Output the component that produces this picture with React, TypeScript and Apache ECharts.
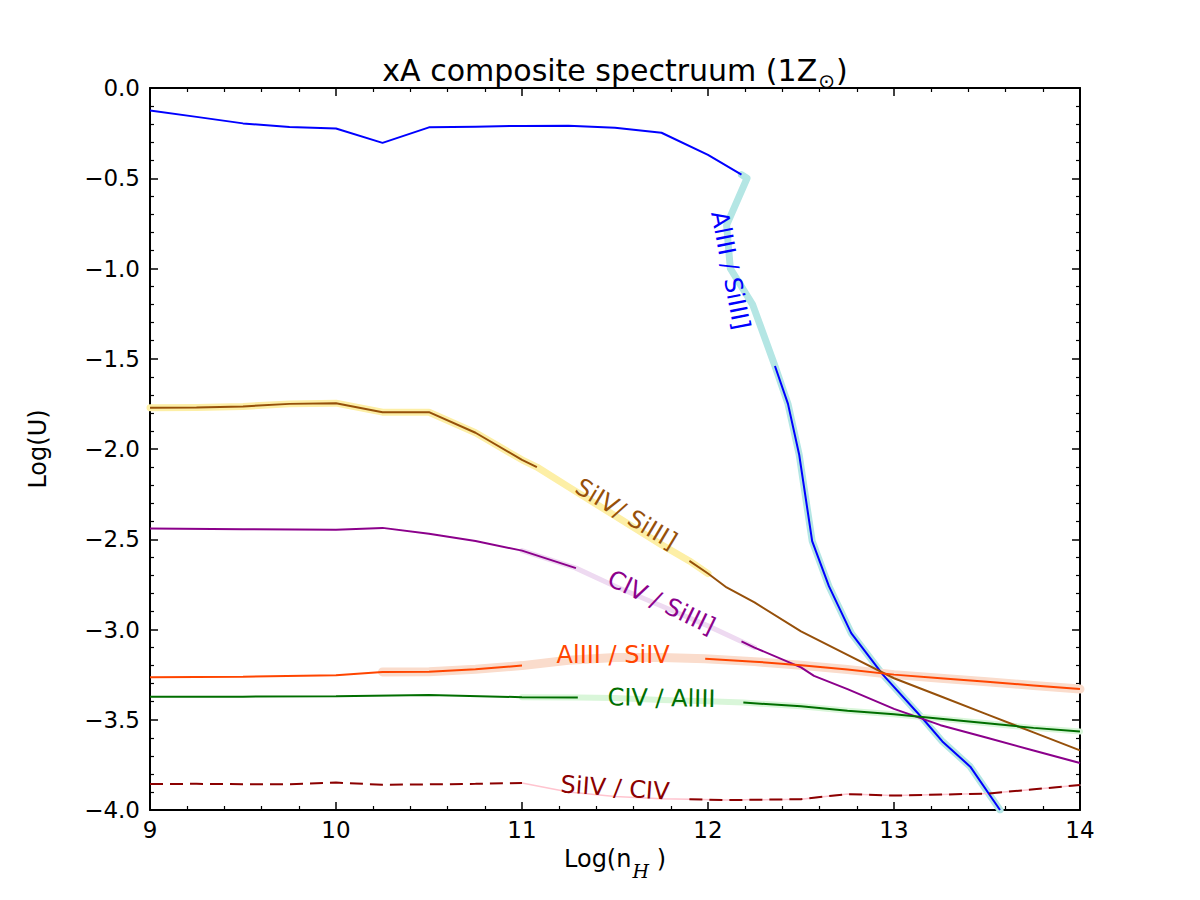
import React, { useEffect, useRef } from "react";
import * as echarts from "echarts";

// ---- Data ----
// AlIII / SiIII]
const alSi3X = [9.0, 9.25, 9.5, 9.75, 10.0, 10.25, 10.5, 10.75, 11.0, 11.25, 11.5, 11.75, 12.0, 12.18, 12.21, 12.1, 12.12, 12.24, 12.36, 12.43, 12.49, 12.56, 12.65, 12.77, 12.94, 13.16, 13.26, 13.41, 13.57];
const alSi3Y = [-0.125, -0.16, -0.196, -0.216, -0.224, -0.304, -0.218, -0.214, -0.21, -0.209, -0.22, -0.248, -0.37, -0.48, -0.5, -0.76, -1.0, -1.2, -1.54, -1.75, -2.03, -2.51, -2.76, -3.02, -3.25, -3.5, -3.62, -3.76, -4.0];
const alSi3Gap = [13, 18];
const alSi3Band = [13, 28];

// SiIV / SiIII]
const si4Si3X = [9.0, 9.25, 9.5, 9.75, 10.0, 10.25, 10.5, 10.75, 11.0, 11.08, 11.25, 11.5, 11.75, 11.9, 12.0, 12.1, 12.25, 12.5, 12.75, 13.0, 13.25, 13.5, 13.75, 14.0];
const si4Si3Y = [-1.772, -1.77, -1.764, -1.75, -1.746, -1.796, -1.796, -1.91, -2.06, -2.1, -2.21, -2.37, -2.53, -2.62, -2.69, -2.767, -2.85, -3.01, -3.14, -3.27, -3.37, -3.47, -3.57, -3.67];
const si4Si3Gap = [9, 13];
const si4Si3Band = [0, 14];

// CIV / SiIII]
const c4Si3X = [9.0, 9.5, 10.0, 10.25, 10.5, 10.75, 11.0, 11.29, 11.5, 11.75, 12.0, 12.18, 12.25, 12.5, 12.57, 12.75, 13.0, 13.25, 13.5, 13.75, 14.0];
const c4Si3Y = [-2.44, -2.444, -2.448, -2.437, -2.47, -2.51, -2.563, -2.66, -2.76, -2.87, -2.98, -3.066, -3.1, -3.21, -3.257, -3.33, -3.44, -3.53, -3.6, -3.67, -3.74];
const c4Si3Gap = [7, 11];
const c4Si3Band = [6, 12];

// AlIII / SiIV
const al3Si4X = [9.0, 9.5, 10.0, 10.25, 10.5, 10.75, 11.0, 11.25, 11.5, 11.75, 11.985, 12.25, 12.5, 12.75, 13.0, 13.25, 13.5, 13.75, 14.0];
const al3Si4Y = [-3.265, -3.262, -3.253, -3.235, -3.234, -3.22, -3.2, -3.17, -3.155, -3.155, -3.162, -3.178, -3.198, -3.222, -3.25, -3.27, -3.29, -3.31, -3.33];
const al3Si4Gap = [6, 10];
const al3Si4Band = [3, 18];

// CIV / AlIII
const c4Al3X = [9.0, 9.5, 10.0, 10.5, 11.0, 11.3, 11.5, 11.75, 12.0, 12.19, 12.5, 12.75, 13.0, 13.25, 13.5, 13.75, 14.0];
const c4Al3Y = [-3.373, -3.372, -3.37, -3.363, -3.375, -3.377, -3.38, -3.39, -3.398, -3.405, -3.425, -3.45, -3.47, -3.495, -3.52, -3.545, -3.565];
const c4Al3Gap = [5, 9];
const c4Al3Band = [4, 16];

// SiIV / CIV (dashed)
const si4C4X = [9.0, 9.25, 9.5, 9.75, 10.0, 10.25, 10.5, 10.75, 11.0, 11.25, 11.5, 11.75, 11.9, 12.1, 12.5, 12.75, 13.0, 13.5, 14.0];
const si4C4Y = [-3.856, -3.855, -3.857, -3.858, -3.848, -3.86, -3.858, -3.855, -3.85, -3.9, -3.925, -3.937, -3.94, -3.945, -3.94, -3.912, -3.92, -3.909, -3.862];
const si4C4Gap = [8, 12];
const si4C4Band = [8, 18];

// Inline labels
const labelText = ["AlIII / SiIII]", "SiIV/ SiIII]", "CIV / SiIII]", "AlIII / SiIV", "CIV / AlIII", "SiIV / CIV"];
const labelX = [12.12, 11.56, 11.75, 11.49, 11.75, 11.5];
const labelY = [-1.01, -2.36, -2.85, -3.14, -3.38, -3.878];
const labelRot = [-79, -31, -26, 0, -1, -4];

// Axis
const xMin = 9;
const xMax = 14;
const yMin = -4;
const yMax = 0;

const FONT = "'DejaVu Sans', sans-serif";

const styles = [
  { xs: alSi3X, ys: alSi3Y, gap: alSi3Gap, band: alSi3Band, color: "#0000ff", bandColor: "#b4e6e4", bandWidth: 7, dashed: false },
  { xs: si4Si3X, ys: si4Si3Y, gap: si4Si3Gap, band: si4Si3Band, color: "#96500a", bandColor: "#fdefa6", bandWidth: 7, dashed: false },
  { xs: c4Si3X, ys: c4Si3Y, gap: c4Si3Gap, band: c4Si3Band, color: "#8b008b", bandColor: "#eedaf1", bandWidth: 5, dashed: false },
  { xs: al3Si4X, ys: al3Si4Y, gap: al3Si4Gap, band: al3Si4Band, color: "#ff4500", bandColor: "#fadccc", bandWidth: 9, dashed: false },
  { xs: c4Al3X, ys: c4Al3Y, gap: c4Al3Gap, band: c4Al3Band, color: "#006e00", bandColor: "#d9f6d9", bandWidth: 6, dashed: false },
  { xs: si4C4X, ys: si4C4Y, gap: si4C4Gap, band: si4C4Band, color: "#8b0000", bandColor: "#ffc4cf", bandWidth: 1.5, dashed: true },
];

function pairs(xs: number[], ys: number[], from = 0, to = xs.length - 1) {
  const out: number[][] = [];
  for (let i = from; i <= to; i++) out.push([xs[i], ys[i]]);
  return out;
}

function fmtY(v: number) {
  if (Math.abs(v) < 1e-9) return "0.0";
  return (v < 0 ? "\u2212" : "") + Math.abs(v).toFixed(1);
}

export default function App() {
  const ref = useRef<HTMLDivElement>(null);
  useEffect(() => {
    if (!ref.current) return;
    const chart = echarts.init(ref.current, undefined, { renderer: "svg" });

    const series: any[] = [];
    styles.forEach((s, k) => {
      series.push({
        type: "line",
        name: "band" + k,
        data: pairs(s.xs, s.ys, s.band[0], s.band[1]),
        symbol: "none",
        z: 1,
        silent: true,
        lineStyle: { color: s.bandColor, width: s.bandWidth, cap: "round", join: "round" },
      });
    });
    styles.forEach((s, k) => {
      const dark = {
        color: s.color,
        width: 2,
        type: s.dashed ? [13, 7] : "solid",
      };
      series.push({
        type: "line",
        name: "lineA" + k,
        data: pairs(s.xs, s.ys, 0, s.gap[0]),
        symbol: "none",
        z: 2,
        silent: true,
        lineStyle: dark,
      });
      series.push({
        type: "line",
        name: "lineB" + k,
        data: pairs(s.xs, s.ys, s.gap[1], s.xs.length - 1),
        symbol: "none",
        z: 2,
        silent: true,
        lineStyle: dark,
      });
    });
    series.push({
      type: "scatter",
      name: "labels",
      symbolSize: 1,
      z: 3,
      silent: true,
      itemStyle: { color: "rgba(0,0,0,0)", opacity: 1 },
      data: labelText.map((t, i) => ({
        value: [labelX[i], labelY[i]],
        label: {
          show: true,
          position: "inside",
          formatter: t,
          rotate: labelRot[i],
          color: styles[i].color,
          opacity: 1,
          textBorderWidth: 0,
          fontSize: 24,
          fontFamily: FONT,
        },
      })),
    });

    const axisLine = { show: true, onZero: false, lineStyle: { color: "#000", width: 2 } };
    const axisTick = { show: true, inside: true, length: 8, lineStyle: { color: "#000", width: 1.5 } };
    const minorTick = { show: true, splitNumber: 5, length: 4, lineStyle: { color: "#000", width: 1.2 } };

    chart.setOption({
      animation: false,
      backgroundColor: "#fff",
      grid: { left: 150, right: 120, top: 88, bottom: 90, containLabel: false },
      xAxis: [
        {
          type: "value", position: "bottom", min: xMin, max: xMax, interval: 1,
          axisLine, axisTick, minorTick, splitLine: { show: false }, minorSplitLine: { show: false },
          axisLabel: { color: "#000", fontSize: 23, fontFamily: FONT, margin: 8 },
        },
        {
          type: "value", position: "top", min: xMin, max: xMax, interval: 1,
          axisLine, axisTick, minorTick, splitLine: { show: false },
          axisLabel: { show: false },
        },
      ],
      yAxis: [
        {
          type: "value", position: "left", min: yMin, max: yMax, interval: 0.5,
          axisLine, axisTick, minorTick, splitLine: { show: false },
          axisLabel: { color: "#000", fontSize: 23, fontFamily: FONT, margin: 10, formatter: fmtY },
        },
        {
          type: "value", position: "right", min: yMin, max: yMax, interval: 0.5,
          axisLine, axisTick, minorTick, splitLine: { show: false },
          axisLabel: { show: false },
        },
      ],
      series,
      graphic: [
        {
          type: "text",
          x: 615,
          y: 55,
          style: {
            text: "{a|xA composite spectruum (1Z}{s|\u2299}{a|)}",
            textAlign: "center",
            textVerticalAlign: "top",
            rich: {
              a: { fontSize: 30, fontFamily: FONT, fill: "#000", color: "#000", verticalAlign: "top", lineHeight: 36 },
              s: { fontSize: 20, fontFamily: FONT, fill: "#000", color: "#000", verticalAlign: "top", lineHeight: 20, padding: [16, 1, 0, 1] },
            },
          },
        },
        {
          type: "text",
          x: 615,
          y: 847,
          style: {
            text: "{a|Log(n}{h|H}{a| )}",
            textAlign: "center",
            textVerticalAlign: "top",
            rich: {
              a: { fontSize: 24, fontFamily: FONT, fill: "#000", color: "#000", verticalAlign: "top", lineHeight: 30 },
              h: { fontSize: 19, fontFamily: "'DejaVu Serif', serif", fontStyle: "italic", fill: "#000", color: "#000", verticalAlign: "top", lineHeight: 20, padding: [14, 0, 0, 1] },
            },
          },
        },
        {
          type: "text",
          x: 38,
          y: 449,
          rotation: Math.PI / 2,
          style: {
            text: "Log(U)",
            textAlign: "center",
            textVerticalAlign: "middle",
            fontSize: 24,
            fontFamily: FONT,
            fill: "#000",
          },
        },
      ],
    });
    return () => chart.dispose();
  }, []);
  return (
    <div
      ref={ref}
      style={{ position: "fixed", left: 0, top: 0, width: 1200, height: 900, background: "#fff" }}
    />
  );
}
